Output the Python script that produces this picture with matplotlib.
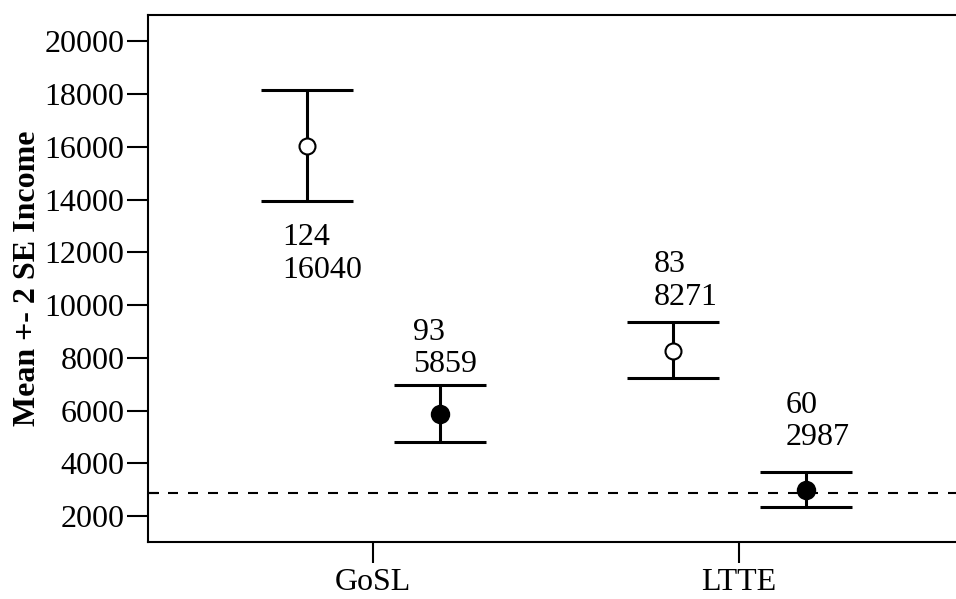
import matplotlib
matplotlib.use('Agg')
from matplotlib import pyplot as plt

plt.rcParams['font.family'] = ['Liberation Serif', 'DejaVu Serif']

grupe = ['GoSL', 'LTTE']

# prazni kruzici (prva serija) i puni kruzici (druga serija)
n_prazni = [124, 83]
sredina_prazni = [16040, 8271]
gornja_prazni = [18170, 9350]
donja_prazni = [13930, 7215]

n_puni = [93, 60]
sredina_puni = [5859, 2987]
gornja_puni = [6955, 3660]
donja_puni = [4795, 2350]

referentna = 2860
y_podeoci = [2000, 4000, 6000, 8000, 10000, 12000, 14000, 16000, 18000, 20000]

# pomeraj oznaka (u pikselima) od kape greske: dx, dy bazne linije broja n
pomeraj_prazni = [(-24.7, -43.7), (-19.4, 50.0)]
pomeraj_puni = [(-27.7, 45.7), (-20.3, 59.3)]
razmak_redova = 32.4

fig = plt.figure(figsize=(9.56, 5.99), dpi=100)
ax = fig.add_axes([148/956, 1 - 541.7/599, 808/956, (541.7 - 14.7)/599])

x = [i + 1 for i in range(len(grupe))]
x_prazni = [v - 0.18 for v in x]
x_puni = [v + 0.185 for v in x]

def crtaj(xs, sred, gor, dol, fill):
    err = [[s - d for s, d in zip(sred, dol)], [g - s for s, g in zip(sred, gor)]]
    ax.errorbar(xs, sred, yerr=err, fmt='none', ecolor='black', elinewidth=2.2,
                capsize=33, capthick=2.2, zorder=2)
    ax.plot(xs, sred, 'o', color='black', markerfacecolor=fill,
            markersize=11.5 if fill == 'white' else 12.5, markeredgewidth=1.5, zorder=3)

crtaj(x_prazni, sredina_prazni, gornja_prazni, donja_prazni, 'white')
crtaj(x_puni, sredina_puni, gornja_puni, donja_puni, 'black')

ax.axhline(referentna, color='black', linewidth=1.5, linestyle=(0, (4.8, 4.8)), zorder=1)

fs = 23
for i in range(len(grupe)):
    dx, dy = pomeraj_prazni[i]
    kapa = donja_prazni[i] if dy < 0 else gornja_prazni[i]
    ax.annotate(str(n_prazni[i]), (x_prazni[i], kapa), xytext=(dx, dy),
                textcoords='offset pixels', va='baseline', ha='left', fontsize=fs)
    ax.annotate(str(sredina_prazni[i]), (x_prazni[i], kapa), xytext=(dx, dy - razmak_redova),
                textcoords='offset pixels', va='baseline', ha='left', fontsize=fs)
    dx, dy = pomeraj_puni[i]
    kapa = donja_puni[i] if dy < 0 else gornja_puni[i]
    ax.annotate(str(n_puni[i]), (x_puni[i], kapa), xytext=(dx, dy),
                textcoords='offset pixels', va='baseline', ha='left', fontsize=fs)
    ax.annotate(str(sredina_puni[i]), (x_puni[i], kapa), xytext=(dx, dy - razmak_redova),
                textcoords='offset pixels', va='baseline', ha='left', fontsize=fs)

ax.set_xlim(0.386, 2.594)
ax.set_ylim(1026, 21010)
ax.set_xticks(x)
ax.set_xticklabels(grupe)
ax.set_yticks(y_podeoci)
ax.set_yticks([referentna], minor=True)
ax.tick_params(axis='both', which='major', direction='out', length=15, width=1.5,
               labelsize=fs, colors='black')
ax.tick_params(axis='x', which='major', pad=4)
ax.tick_params(axis='y', which='major', pad=2)
ax.tick_params(axis='y', which='minor', direction='in', length=8, width=1.5)
ax.tick_params(axis='x', which='minor', bottom=False)

for s in ['left', 'bottom', 'top']:
    ax.spines[s].set_linewidth(1.5)
ax.spines['right'].set_visible(False)

ax.set_ylabel('Mean +- 2 SE Income', fontsize=fs, fontweight='bold')
ax.yaxis.set_label_coords(-0.131, 0.5)

fig.savefig('out.png', dpi=100)
